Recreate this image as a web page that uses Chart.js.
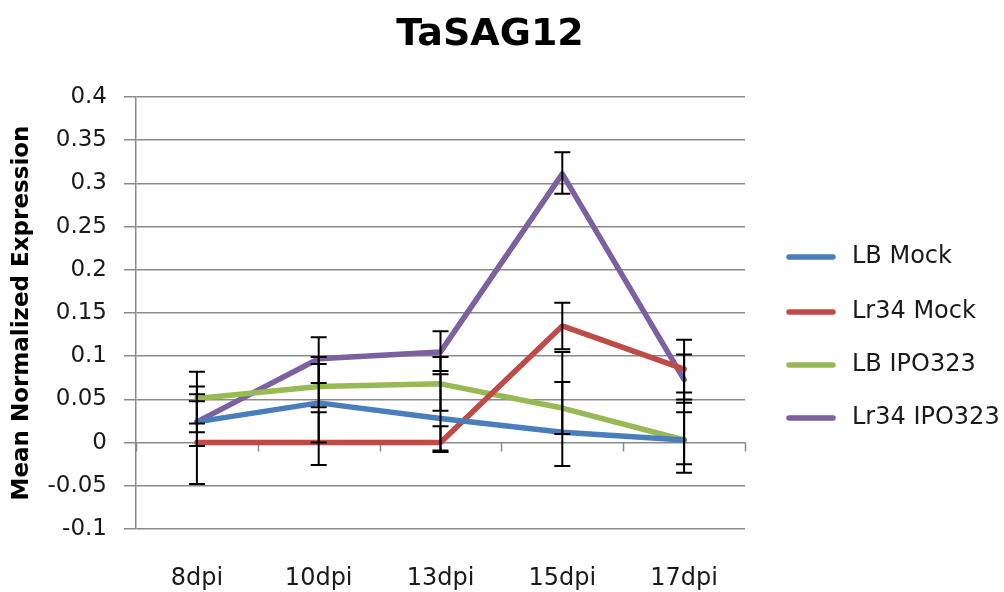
<!DOCTYPE html>
<html>
<head>
<meta charset="utf-8">
<script src="https://cdn.jsdelivr.net/npm/chart.js@4/dist/chart.umd.min.js"></script>
<style>
  html, body { margin: 0; padding: 0; background: #ffffff; }
  #wrap { width: 1004px; height: 592px; position: relative; }
</style>
</head>
<body>
<div id="wrap"><canvas id="chart" width="1004" height="592"></canvas></div>
<script>
// Sampling days
const categories = ['8dpi', '10dpi', '13dpi', '15dpi', '17dpi'];

// Mean normalized expression of TaSAG12
const lbMock      = [0.024, 0.046, 0.028, 0.012, 0.003];
const lr34Mock    = [0.000, 0.000, 0.000, 0.135, 0.085];
const lbIpo323    = [0.051, 0.065, 0.068, 0.040, 0.003];
const lr34Ipo323  = [0.024, 0.097, 0.105, 0.311, 0.073];

// Error bar extents above / below each mean
const lbMockErrUp       = [0.032, 0.053, 0.051, 0.093, 0.055];
const lbMockErrDown     = [0.028, 0.072, 0.039, 0.039, 0.038];
const lr34MockErrUp     = [0.048, 0.035, 0.019, 0.027, 0.034];
const lr34MockErrDown   = [0.048, 0.000, 0.009, 0.027, 0.035];
const lbIpo323ErrUp     = [0.031, 0.026, 0.031, 0.030, 0.032];
const lbIpo323ErrDown   = [0.029, 0.024, 0.031, 0.030, 0.028];
const lr34Ipo323ErrUp   = [0.041, 0.025, 0.024, 0.025, 0.029];
const lr34Ipo323ErrDown = [0.012, 0.028, 0.022, 0.023, 0.027];

// Value axis tick labels, bottom to top
const yTickLabels = ['-0.1', '-0.05', '0', '0.05', '0.1', '0.15', '0.2', '0.25', '0.3', '0.35', '0.4'];
const yMin = -0.1, yMax = 0.4, yStep = 0.05;

const chartTitle = 'TaSAG12';
const yAxisTitle = 'Mean Normalized Expression';

const FONT = 'DejaVu Sans';
const TEXT_COLOR = '#1a1a1a';
const GRID_COLOR = '#8a8a8a';

function series(label, data, color, up, down) {
  return {
    label, data,
    borderColor: color,
    backgroundColor: color,
    borderWidth: 5.5,
    pointRadius: 0,
    pointHoverRadius: 0,
    tension: 0,
    borderJoinStyle: 'round',
    borderCapStyle: 'round',
    errUp: up,
    errDown: down
  };
}

// Vertical error bars with caps, drawn over the lines
const errorBars = {
  id: 'errorBars',
  afterDatasetsDraw(chart) {
    const { ctx, scales: { x, y } } = chart;
    ctx.save();
    ctx.strokeStyle = '#000000';
    ctx.lineWidth = 2;
    const cap = 8;
    chart.data.datasets.forEach(ds => {
      ds.data.forEach((v, i) => {
        const px = x.getPixelForValue(i);
        const top = y.getPixelForValue(v + ds.errUp[i]);
        const bot = y.getPixelForValue(v - ds.errDown[i]);
        ctx.beginPath();
        ctx.moveTo(px, top); ctx.lineTo(px, bot);
        ctx.moveTo(px - cap, top); ctx.lineTo(px + cap, top);
        ctx.moveTo(px - cap, bot); ctx.lineTo(px + cap, bot);
        ctx.stroke();
      });
    });
    ctx.restore();
  }
};

// Category axis crossing at zero with tick marks between categories
const zeroAxis = {
  id: 'zeroAxis',
  beforeDatasetsDraw(chart) {
    const { ctx, scales: { x, y } } = chart;
    const y0 = y.getPixelForValue(0);
    const half = (x.getPixelForValue(1) - x.getPixelForValue(0)) / 2;
    ctx.save();
    ctx.strokeStyle = GRID_COLOR;
    ctx.lineWidth = 1.5;
    ctx.beginPath();
    for (let i = 0; i <= categories.length; i++) {
      const px = Math.round(x.getPixelForValue(i) - half) + 0.5;
      ctx.moveTo(px, y0);
      ctx.lineTo(px, y0 + 9);
    }
    ctx.stroke();
    ctx.restore();
  }
};

// Title and legend
const decorations = {
  id: 'decorations',
  afterDraw(chart) {
    const { ctx } = chart;
    ctx.save();
    ctx.fillStyle = '#000000';
    ctx.font = 'bold 38px "' + FONT + '"';
    ctx.textAlign = 'center';
    ctx.textBaseline = 'middle';
    ctx.fillText(chartTitle, 490, 35);

    const rows = [257, 312, 365, 418];
    ctx.font = '24px "' + FONT + '"';
    ctx.textAlign = 'left';
    chart.data.datasets.forEach((ds, i) => {
      const yy = rows[i];
      ctx.strokeStyle = ds.borderColor;
      ctx.lineWidth = 5.5;
      ctx.lineCap = 'round';
      ctx.beginPath();
      ctx.moveTo(789, yy); ctx.lineTo(833, yy);
      ctx.stroke();
      ctx.fillStyle = TEXT_COLOR;
      ctx.fillText(ds.label, 852, yy);
    });
    ctx.restore();
  }
};

new Chart(document.getElementById('chart'), {
  type: 'line',
  data: {
    labels: categories,
    datasets: [
      series('LB Mock', lbMock, '#4A7EBB', lbMockErrUp, lbMockErrDown),
      series('Lr34 Mock', lr34Mock, '#BE4B48', lr34MockErrUp, lr34MockErrDown),
      series('LB IPO323', lbIpo323, '#98B954', lbIpo323ErrUp, lbIpo323ErrDown),
      series('Lr34 IPO323', lr34Ipo323, '#7D60A0', lr34Ipo323ErrUp, lr34Ipo323ErrDown)
    ]
  },
  options: {
    responsive: false,
    animation: false,
    events: [],
    layout: { padding: { top: 97, right: 259, left: 0, bottom: 0 } },
    plugins: {
      legend: { display: false },
      title: { display: false },
      tooltip: { enabled: false }
    },
    scales: {
      x: {
        type: 'category',
        offset: true,
        grid: { display: false, drawTicks: false },
        border: { display: false },
        ticks: {
          color: TEXT_COLOR,
          font: { family: FONT, size: 24 },
          padding: 35,
          maxRotation: 0
        },
        afterFit(scale) { scale.height = 63; }
      },
      y: {
        min: yMin,
        max: yMax,
        grid: { color: GRID_COLOR, lineWidth: 1.5, tickLength: 12 },
        border: { display: true, color: GRID_COLOR, width: 1.5 },
        ticks: {
          stepSize: yStep,
          color: TEXT_COLOR,
          font: { family: FONT, size: 23 },
          padding: 17,
          callback: (v) => yTickLabels[Math.round((v - yMin) / yStep)]
        },
        title: {
          display: true,
          text: yAxisTitle,
          color: '#000000',
          font: { family: FONT, size: 23, weight: 'bold' },
          padding: { top: 8, bottom: 0 }
        },
        afterFit(scale) { scale.width = 136; }
      }
    }
  },
  plugins: [zeroAxis, errorBars, decorations]
});
</script>
</body>
</html>
